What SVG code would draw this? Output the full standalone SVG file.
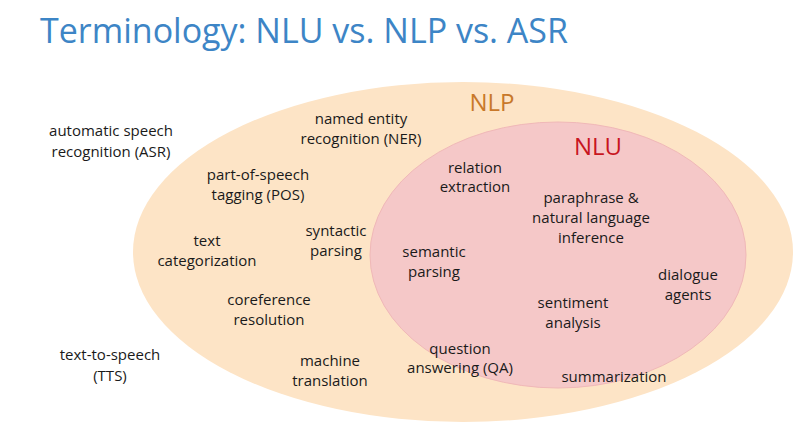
<svg xmlns="http://www.w3.org/2000/svg" width="800" height="434" viewBox="0 0 800 434">
<style>
text{font-family:"Open Sans","Noto Sans",sans-serif;font-size:15px;fill:#1a1a1a;text-anchor:middle}
.t{font-size:34px;fill:#3d85c6;text-anchor:start}
</style>
<rect width="800" height="434" fill="#fff"/>
<text class="t" x="40" y="43">Terminology: NLU vs. NLP vs. ASR</text>
<g id="nlp"><ellipse cx="463" cy="252" rx="330" ry="170" fill="#fde4c6"/>
<text x="492" y="111" style="font-size:24px;fill:#c8782a">NLP</text></g>
<g id="nlu"><ellipse cx="558" cy="255" rx="188" ry="133" fill="#f5c8c8" stroke="#f0b8b8"/>
<text x="598" y="155" style="font-size:24px;fill:#c8161e">NLU</text></g>
<g id="labels">
<text x="111" y="136">automatic speech</text><text x="111" y="157">recognition (ASR)</text>
<text x="110" y="360">text-to-speech</text><text x="110" y="381">(TTS)</text>
<text x="361" y="124">named entity</text><text x="361" y="144">recognition (NER)</text>
<text x="258" y="180">part-of-speech</text><text x="258" y="200">tagging (POS)</text>
<text x="207" y="246">text</text><text x="207" y="266">categorization</text>
<text x="336" y="236">syntactic</text><text x="336" y="256">parsing</text>
<text x="269" y="305">coreference</text><text x="269" y="325">resolution</text>
<text x="330" y="366">machine</text><text x="330" y="386">translation</text>
<text x="475" y="173">relation</text><text x="475" y="192">extraction</text>
<text x="591" y="203">paraphrase &amp;</text><text x="591" y="223">natural language</text><text x="591" y="243">inference</text>
<text x="434" y="257">semantic</text><text x="434" y="277">parsing</text>
<text x="688" y="280">dialogue</text><text x="688" y="300">agents</text>
<text x="573" y="308">sentiment</text><text x="573" y="328">analysis</text>
<text x="460" y="354">question</text><text x="460" y="373">answering (QA)</text>
<text x="614" y="382">summarization</text>
</g>
<g id="connectors"/>
</svg>
